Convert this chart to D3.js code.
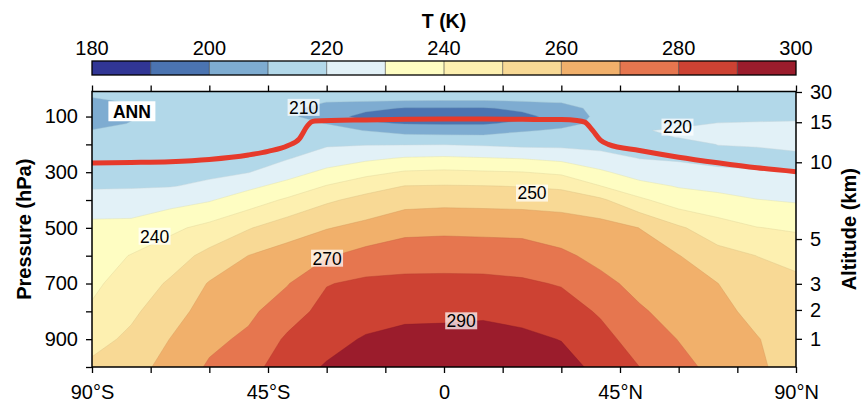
<!DOCTYPE html>
<html>
<head>
<meta charset="utf-8">
<script src="https://cdn.jsdelivr.net/npm/d3@7"></script>
<style>
  body { margin: 0; background: #fff; }
  text { font-family: "Liberation Sans", Arial, Helvetica, sans-serif; }
</style>
</head>
<body>
<svg id="chart" width="862" height="408"></svg>
<script>
// zonal mean temperature (K), one row per latitude, one value per pressure level
const lats = [-90, -80, -70, -60, -50, -40, -30, -20, -10, 0, 10, 20, 30, 40, 50, 60, 70, 80, 90];
const levels = [10, 30, 50, 70, 100, 125, 150, 175, 200, 250, 300, 350, 400, 500, 600, 700, 800, 900, 1000];
const tempByLat = [
  [212, 210.3, 207, 206, 206.5, 208.5, 210.2, 211, 212, 214, 216.3, 219, 223.4, 233, 235.5, 238.2, 241.2, 246.6, 252],
  [212.5, 211.5, 210.5, 210.1, 209.6, 210.2, 211, 212, 212.8, 214.5, 216.5, 219.2, 223.8, 233.2, 240.4, 244.2, 248.1, 252, 256],
  [213, 212.5, 212, 211.5, 211.3, 211.5, 212, 212.5, 213.3, 215.2, 217.2, 219.6, 226.3, 237.9, 245.3, 251.3, 255.8, 260.2, 263.5],
  [214, 213.5, 213, 212.5, 212.2, 212.3, 212.7, 213.3, 214, 216, 218.2, 221.7, 229.2, 242.8, 252.9, 260.7, 264.2, 267.7, 271.2],
  [215, 214.5, 214, 213.5, 213, 213, 213.3, 213.8, 214.5, 216.5, 219.7, 227.8, 235, 249.3, 260.1, 264, 268, 271.8, 276],
  [216, 215, 214, 213.3, 212.5, 212.5, 213, 214, 215.3, 219.4, 226, 233.3, 241.5, 255.5, 264, 269.5, 275.3, 281.6, 286],
  [216, 213, 209.7, 205, 203.5, 209.8, 213.5, 216.2, 218.9, 224.9, 232.2, 240.5, 248.5, 259.5, 269.1, 279.5, 283.5, 287.1, 290.8],
  [215.5, 213.5, 209, 202, 197.5, 201.5, 209.7, 215, 219.5, 228.1, 237, 246.2, 252.9, 262.8, 273.5, 282, 286.1, 290.8, 295],
  [215, 214, 208, 199.5, 196, 199.5, 206.5, 213, 219.5, 230.8, 240.9, 250.2, 256.3, 267.1, 275.4, 282.4, 287.8, 292.5, 297.5],
  [215, 214, 207.5, 199.5, 195, 199, 205.6, 212.6, 219.7, 231.5, 241.7, 250.6, 257.1, 267.6, 275.8, 282.4, 287.8, 293, 298],
  [215, 214, 207.5, 199.2, 195, 199, 205.7, 212.3, 218.8, 230.6, 240.9, 250.3, 256.8, 267.3, 275.4, 282.4, 288.3, 293.5, 298.5],
  [215.5, 213.5, 209, 202, 197.5, 202, 209, 214.8, 217.6, 229.6, 240.2, 249.6, 256.4, 267, 274.8, 281.4, 286.9, 292.1, 297],
  [216, 213, 210.2, 205, 203.5, 207, 211.5, 214.7, 217.5, 227.5, 238.1, 247.9, 256, 265, 271.8, 279.3, 284.6, 289.7, 293.5],
  [217, 216, 215, 214, 212.5, 212.3, 213, 214.5, 216.5, 224, 231.4, 240.2, 251.8, 264, 267.3, 272.5, 278.8, 283.3, 287.5],
  [217, 217, 216.5, 216, 216.5, 218.5, 219.6, 219, 218, 219.8, 226, 232.8, 241.9, 259.9, 263.6, 267.3, 271.1, 275.6, 280],
  [217, 217, 216.5, 216, 217, 218.8, 220.8, 220.1, 218.3, 218.8, 223.7, 229.4, 234.6, 251.4, 260.3, 263.4, 266.6, 269.7, 273],
  [217, 217, 216.5, 216.5, 218, 220.2, 221.5, 221, 220.1, 218.5, 221, 227.5, 232.9, 244.2, 253.5, 260.1, 262.3, 264.6, 267],
  [217, 217, 217, 216.5, 218.5, 220.5, 222, 221.5, 220.5, 218, 220.5, 225.5, 230.3, 240.3, 249.9, 253.8, 257.7, 260.4, 261],
  [217, 217, 217, 217, 219, 220.6, 222, 222, 221.2, 218.8, 219.8, 224.4, 229, 238.7, 246.6, 252.5, 254.4, 256.1, 257.5]
];

// tropopause (red line)
const tropLat = [-90, -80, -70, -60, -50, -45, -40, -37, -35, -34, -33, -20, -10, 0, 10, 20, 30, 34, 36, 38, 40, 42, 50, 60, 70, 80, 90];
const tropP = [267, 265, 262, 254, 238, 225, 205, 180, 135, 120, 116, 112, 110, 109, 109, 110, 111, 114, 120, 150, 185, 200, 222, 246, 266, 284, 298];

const bandEdges = [180, 190, 200, 210, 220, 230, 240, 250, 260, 270, 280, 290, 300];
const bandColors = ["#313695", "#4b74b1", "#7eacd1", "#b2d8e9", "#e2f1f7", "#fefdc2",
                    "#fdf0b0", "#f8d995", "#f1b06b", "#e6764f", "#cd4233", "#9b1c2c"];
const cbTicks = [180, 200, 220, 240, 260, 280, 300];
const pTicks = [100, 200, 300, 400, 500, 600, 700, 800, 900, 1000];
const pLabels = [100, 300, 500, 700, 900];
const altTicks = [1, 2, 3, 5, 10, 15, 30];
const latTicks = [-90, -75, -60, -45, -30, -15, 0, 15, 30, 45, 60, 75, 90];
const latLabels = { "-90": "90°S", "-45": "45°S", "0": "0", "45": "45°N", "90": "90°N" };

const contourLabels = [
  { text: "210", lat: -35.9, p: 67 },
  { text: "220", lat: 59.7, p: 138 },
  { text: "250", lat: 22.5, p: 375 },
  { text: "240", lat: -74, p: 530 },
  { text: "270", lat: -29.9, p: 609 },
  { text: "290", lat: 4.4, p: 834 }
];

// standard atmosphere: altitude (km) -> pressure (hPa)
function stdPressure(km) {
  if (km <= 11) return 1013.25 * Math.pow(1 - 0.0065 * km * 1000 / 288.15, 5.25588);
  if (km <= 20) return 226.32 * Math.exp(-(km - 11) * 1000 * 9.80665 / (287.05 * 216.65));
  return 54.75 * Math.pow(1 + (km - 20) / 216.65, -34.163);
}

const svg = d3.select("#chart");
const plotL = 92, plotR = 796, plotT = 91.5, plotB = 367;

const x = d3.scaleLinear().domain([-90, 90]).range([plotL, plotR]);
const y = d3.scaleLinear().domain([10, 1000]).range([plotT, plotB]);

// contour grid
const nx = lats.length, ny = levels.length;
const values = new Array(nx * ny);
for (let j = 0; j < ny; j++) {
  for (let i = 0; i < nx; i++) values[j * nx + i] = tempByLat[i][j];
}
const latAt = d3.scaleLinear().domain(d3.range(nx)).range(lats).clamp(true);
const pAt = d3.scaleLinear().domain(d3.range(ny)).range(levels).clamp(true);
const proj = d3.geoTransform({
  point: function(px, py) { this.stream.point(x(latAt(px - 0.5)), y(pAt(py - 0.5))); }
});
const path = d3.geoPath(proj);

const contours = d3.contours().size([nx, ny]).thresholds(bandEdges.slice(0, -1))(values);

svg.append("defs").append("clipPath").attr("id", "plotclip")
  .append("rect").attr("x", plotL).attr("y", plotT)
  .attr("width", plotR - plotL).attr("height", plotB - plotT);

const plot = svg.append("g").attr("clip-path", "url(#plotclip)");

plot.selectAll("path.band")
  .data(contours)
  .join("path")
  .attr("class", "band")
  .attr("d", path)
  .attr("fill", (d, i) => bandColors[i])
  .attr("stroke", (d, i) => d3.color(bandColors[i]).darker(0.35))
  .attr("stroke-opacity", 0.7)
  .attr("stroke-width", 0.6);

// tropopause
plot.append("path")
  .datum(tropLat.map((d, i) => [d, tropP[i]]))
  .attr("d", d3.line().x(d => x(d[0])).y(d => y(d[1])).curve(d3.curveMonotoneX))
  .attr("fill", "none")
  .attr("stroke", "#e63a2b")
  .attr("stroke-width", 5)
  .attr("stroke-linejoin", "round");

// contour labels
contourLabels.forEach(l => {
  const g = plot.append("g").attr("transform", `translate(${x(l.lat)},${y(l.p)})`);
  g.append("rect").attr("x", -16).attr("y", -8.5).attr("width", 32).attr("height", 17)
    .attr("fill", "#fff").attr("fill-opacity", 0.72);
  g.append("text").attr("text-anchor", "middle").attr("dy", "0.36em")
    .attr("font-size", 17.5).attr("fill", "#000").text(l.text);
});

// ANN box
const ann = plot.append("g").attr("transform", `translate(${x(-79.8)},${y(81)})`);
ann.append("rect").attr("x", -23.5).attr("y", -10).attr("width", 47).attr("height", 20).attr("fill", "#fff");
ann.append("text").attr("text-anchor", "middle").attr("dy", "0.36em")
  .attr("font-size", 17.5).attr("font-weight", "bold").text("ANN");

// frame
svg.append("rect").attr("x", plotL).attr("y", plotT)
  .attr("width", plotR - plotL).attr("height", plotB - plotT)
  .attr("fill", "none").attr("stroke", "#000").attr("stroke-width", 1.5);

function styleAxis(g) {
  g.select(".domain").remove();
  g.selectAll("line").attr("stroke", "#000").attr("stroke-width", 1.3);
  g.selectAll("text").attr("font-size", 20).attr("fill", "#000")
    .attr("font-family", "'Liberation Sans', Arial, Helvetica, sans-serif");
}

svg.append("g").attr("transform", `translate(${plotL},0)`)
  .call(d3.axisLeft(y).tickValues(pTicks).tickSize(6).tickPadding(8)
    .tickFormat(d => pLabels.includes(d) ? d : ""))
  .call(styleAxis);

svg.append("g").attr("transform", `translate(${plotR},0)`)
  .call(d3.axisRight(y).tickValues(altTicks.map(stdPressure)).tickSize(6).tickPadding(8)
    .tickFormat((d, i) => altTicks[i]))
  .call(styleAxis);

svg.append("g").attr("transform", `translate(0,${plotB})`)
  .call(d3.axisBottom(x).tickValues(latTicks).tickSize(6).tickPadding(12)
    .tickFormat(d => latLabels[d] || ""))
  .call(styleAxis);

svg.append("g").attr("transform", `translate(0,${plotT})`)
  .call(d3.axisTop(x).tickValues(latTicks).tickSize(6).tickFormat(""))
  .call(styleAxis);

// axis titles
svg.append("text").attr("transform", `translate(31,${(plotT + plotB) / 2}) rotate(-90)`)
  .attr("text-anchor", "middle").attr("font-size", 20).attr("font-weight", "bold")
  .text("Pressure (hPa)");
svg.append("text").attr("transform", `translate(856,${(plotT + plotB) / 2}) rotate(-90)`)
  .attr("text-anchor", "middle").attr("font-size", 20).attr("font-weight", "bold")
  .text("Altitude (km)");

// colorbar
const cx = d3.scaleLinear().domain([180, 300]).range([plotL, plotR]);
const cbTop = 61, cbH = 14;
const cb = svg.append("g");
cb.selectAll("rect.seg")
  .data(bandColors)
  .join("rect")
  .attr("class", "seg")
  .attr("x", (d, i) => cx(bandEdges[i]))
  .attr("y", cbTop)
  .attr("width", (d, i) => cx(bandEdges[i + 1]) - cx(bandEdges[i]))
  .attr("height", cbH)
  .attr("fill", d => d);
cb.selectAll("line.sep")
  .data(bandEdges.slice(1, -1))
  .join("line")
  .attr("class", "sep")
  .attr("x1", d => cx(d)).attr("x2", d => cx(d))
  .attr("y1", cbTop).attr("y2", cbTop + cbH)
  .attr("stroke", "#333").attr("stroke-width", 0.6);
cb.append("rect").attr("x", plotL).attr("y", cbTop).attr("width", plotR - plotL).attr("height", cbH)
  .attr("fill", "none").attr("stroke", "#000").attr("stroke-width", 1.3);
cb.selectAll("text.cbl")
  .data(cbTicks)
  .join("text")
  .attr("class", "cbl")
  .attr("x", d => cx(d))
  .attr("y", 55)
  .attr("text-anchor", "middle")
  .attr("font-size", 20)
  .text(d => d);

svg.append("text").attr("x", 444).attr("y", 28).attr("text-anchor", "middle")
  .attr("font-size", 19.5).attr("font-weight", "bold").text("T (K)");
</script>
</body>
</html>
